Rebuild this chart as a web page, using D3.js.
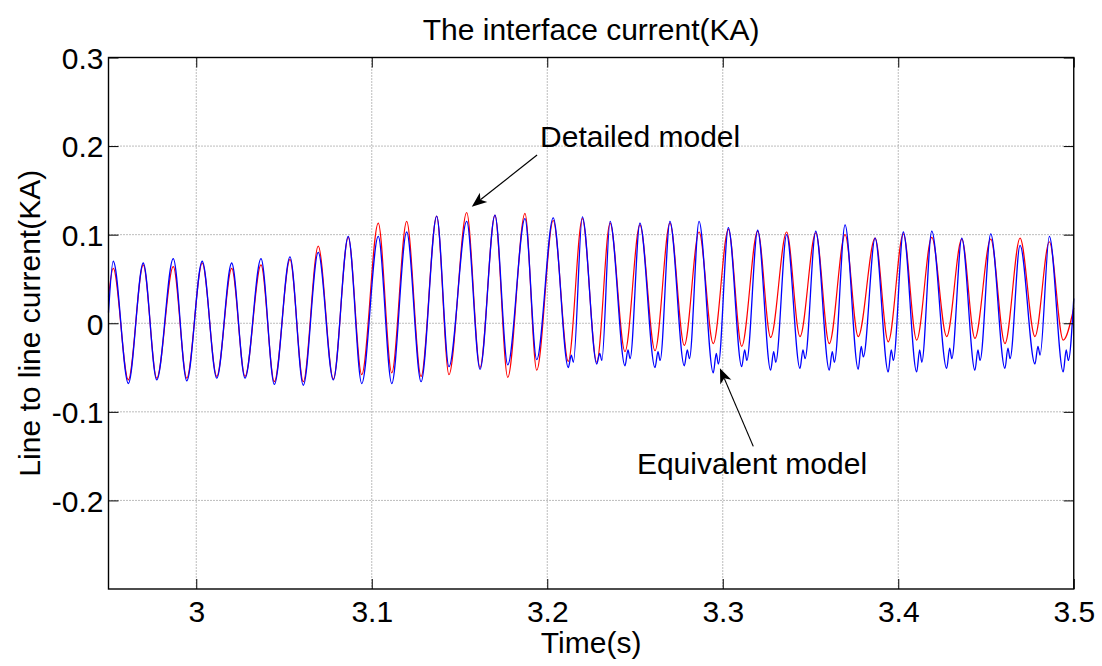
<!DOCTYPE html>
<html>
<head>
<meta charset="utf-8">
<script src="https://cdn.jsdelivr.net/npm/d3@7"></script>
<style>
    body { margin: 0; background: #fff; }
    svg { font-family: "Liberation Sans", Arial, Helvetica, sans-serif; }
</style>
</head>
<body>
<div id="wrapper"></div>
<script>
//data
const peakTime = [2.9527, 2.9698, 2.9869, 3.0034, 3.0202, 3.0369, 3.0534, 3.0695, 3.0866, 3.1037, 3.1199,
    3.1370, 3.1541, 3.1702, 3.1873, 3.2034, 3.2200, 3.2358, 3.2528, 3.2699, 3.2865, 3.3032,
    3.3199, 3.3364, 3.3530, 3.3697, 3.3868, 3.4029, 3.4191, 3.4362, 3.4527, 3.4694, 3.4861];
const troughTime = [2.9613, 2.9775, 2.9946, 3.0117, 3.0278, 3.0445, 3.0610, 3.0781, 3.0943, 3.1114, 3.1281,
    3.1440, 3.1617, 3.1775, 3.1940, 3.2120, 3.2282, 3.2443, 3.2614, 3.2781, 3.2946, 3.3108,
    3.3273, 3.3440, 3.3607, 3.3772, 3.3943, 3.4105, 3.4276, 3.4437, 3.4608, 3.4779, 3.4940];

const detailedPeak = [0.062, 0.066, 0.064, 0.068, 0.062, 0.066, 0.072, 0.087, 0.097, 0.113, 0.115,
    0.121, 0.125, 0.122, 0.124, 0.116, 0.118, 0.113, 0.111, 0.113, 0.103, 0.106,
    0.104, 0.103, 0.102, 0.100, 0.096, 0.101, 0.097, 0.095, 0.095, 0.096, 0.092];
const detailedTrough = [-0.064, -0.062, -0.062, -0.060, -0.060, -0.066, -0.066, -0.063, -0.058, -0.056, -0.060,
    -0.058, -0.050, -0.061, -0.053, -0.043, -0.044, -0.032, -0.031, -0.025, -0.023, -0.026,
    -0.016, -0.015, -0.023, -0.015, -0.021, -0.019, -0.015, -0.017, -0.023, -0.015, -0.019];

const equivalentPeak = [0.070, 0.068, 0.073, 0.070, 0.068, 0.073, 0.075, 0.080, 0.098, 0.098, 0.103,
    0.121, 0.115, 0.122, 0.118, 0.119, 0.120, 0.115, 0.113, 0.115, 0.115, 0.108,
    0.105, 0.100, 0.104, 0.111, 0.096, 0.103, 0.104, 0.096, 0.101, 0.088, 0.098];
const equivalentTrough = [-0.068, -0.064, -0.065, -0.062, -0.062, -0.069, -0.070, -0.064, -0.068, -0.068, -0.066,
    -0.049, -0.052, -0.047, -0.041, -0.050, -0.046, -0.048, -0.050, -0.048, -0.056, -0.049,
    -0.053, -0.051, -0.053, -0.052, -0.055, -0.055, -0.051, -0.053, -0.051, -0.046, -0.055];
// small bump + second dip right after the deep troughs of the equivalent model
const equivalentNotch = [
    [3.2137, -0.036], [3.2149, -0.044], [3.2299, -0.034], [3.2311, -0.042],
    [3.2460, -0.030], [3.2472, -0.040], [3.2631, -0.032], [3.2643, -0.042],
    [3.2798, -0.030], [3.2810, -0.040], [3.2963, -0.034], [3.2975, -0.046],
    [3.3125, -0.030], [3.3137, -0.042], [3.3290, -0.032], [3.3302, -0.044],
    [3.3457, -0.030], [3.3469, -0.040], [3.3624, -0.032], [3.3636, -0.044],
    [3.3789, -0.026], [3.3801, -0.038], [3.3960, -0.030], [3.3972, -0.042],
    [3.4122, -0.030], [3.4134, -0.044], [3.4293, -0.028], [3.4305, -0.040],
    [3.4454, -0.030], [3.4466, -0.042], [3.4625, -0.028], [3.4637, -0.040],
    [3.4796, -0.026], [3.4808, -0.036], [3.4957, -0.030], [3.4969, -0.042]
];
const detailedEnds = [[2.95, 0.030], [3.5, 0.017]];
const equivalentEnds = [[2.95, 0.012], [3.5, 0.028]];

const xTicks = [3, 3.1, 3.2, 3.3, 3.4, 3.5];
const yTicks = [-0.2, -0.1, 0, 0.1, 0.2, 0.3];

// annotations: text position, arrow tail, arrow tip (data units)
const notes = [
    { label: 'Detailed model', text: [3.1959, 0.199], tail: [3.1942, 0.190], tip: [3.1570, 0.1316] },
    { label: 'Equivalent model', text: [3.2511, -0.170], tail: [3.3174, -0.139], tip: [3.2984, -0.0508] },
];

function buildSeries(peaks, troughs, ends, extra) {
    let pts = [ends[0]];
    peakTime.forEach((t, i) => {
        pts.push([t, peaks[i]]);
        pts.push([troughTime[i], troughs[i]]);
    });
    pts = pts.concat(extra || []);
    pts.push(ends[1]);
    return pts.sort((a, b) => a[0] - b[0]);
}

const detailed = buildSeries(detailedPeak, detailedTrough, detailedEnds);
const equivalent = buildSeries(equivalentPeak, equivalentTrough, equivalentEnds, equivalentNotch);

//set up dimensions
let dimensions = {
    width: 1102,
    height: 666,
    margin: { top: 57.5, right: 28.25, bottom: 77, left: 108.5 },
};
dimensions.boundedWidth = dimensions.width - dimensions.margin.left - dimensions.margin.right;
dimensions.boundedHeight = dimensions.height - dimensions.margin.top - dimensions.margin.bottom;

const svg = d3.select('#wrapper')
    .append('svg')
    .attr('width', dimensions.width)
    .attr('height', dimensions.height);

const bounds = svg.append('g')
    .attr('transform', `translate(${dimensions.margin.left}, ${dimensions.margin.top})`);

const x = d3.scaleLinear().domain([2.95, 3.5]).range([0, dimensions.boundedWidth]);
const y = d3.scaleLinear().domain([-0.3, 0.3]).range([dimensions.boundedHeight, 0]);

const fontSize = 30;
const plainNumber = d => String(d); // keeps the ascii hyphen like matlab

// grid (dotted, matlab style)
const grid = bounds.append('g').attr('class', 'grid');
grid.selectAll('.vgrid')
    .data(xTicks.filter(d => d < 3.5))
    .join('line')
    .attr('x1', d => x(d)).attr('x2', d => x(d))
    .attr('y1', 0).attr('y2', dimensions.boundedHeight);
grid.selectAll('.hgrid')
    .data(yTicks.filter(d => d < 0.3))
    .join('line')
    .attr('class', 'hgrid')
    .attr('y1', d => y(d)).attr('y2', d => y(d))
    .attr('x1', 0).attr('x2', dimensions.boundedWidth);
grid.selectAll('line')
    .attr('stroke', '#7a7a7a')
    .attr('stroke-width', 1)
    .attr('stroke-dasharray', '1,2');

// lines
const line = d3.line()
    .x(d => x(d[0]))
    .y(d => y(d[1]))
    .curve(d3.curveMonotoneX);

bounds.append('path')
    .datum(detailed)
    .attr('d', line)
    .attr('fill', 'none')
    .attr('stroke', '#ff0000')
    .attr('stroke-width', 1.2);

bounds.append('path')
    .datum(equivalent)
    .attr('d', line)
    .attr('fill', 'none')
    .attr('stroke', '#0000ff')
    .attr('stroke-width', 1.3);

// axes, ticks inside on all four sides
const tickLen = 10;
const xAxis = bounds.append('g')
    .attr('transform', `translate(0, ${dimensions.boundedHeight})`)
    .call(d3.axisBottom(x).tickValues(xTicks).tickSize(-tickLen).tickFormat(plainNumber));
const xTop = bounds.append('g')
    .call(d3.axisTop(x).tickValues(xTicks).tickSize(-tickLen).tickFormat(''));
const yAxis = bounds.append('g')
    .call(d3.axisLeft(y).tickValues(yTicks).tickSize(-tickLen).tickFormat(plainNumber));
const yRight = bounds.append('g')
    .attr('transform', `translate(${dimensions.boundedWidth}, 0)`)
    .call(d3.axisRight(y).tickValues(yTicks).tickSize(-tickLen).tickFormat(''));

[xAxis, xTop, yAxis, yRight].forEach(a => {
    a.select('.domain').remove();
    a.selectAll('.tick line').attr('stroke', '#000').attr('stroke-width', 1);
    a.selectAll('text')
        .attr('font-size', fontSize)
        .attr('fill', '#000')
        .attr('font-family', '"Liberation Sans", Arial, sans-serif');
});
yAxis.selectAll('text').attr('x', -5).attr('dy', '0.36em');
xAxis.selectAll('text').attr('y', 33).attr('dy', 0);

// box
bounds.append('rect')
    .attr('width', dimensions.boundedWidth)
    .attr('height', dimensions.boundedHeight)
    .attr('fill', 'none')
    .attr('stroke', '#000')
    .attr('stroke-width', 1.4);

// labels
svg.append('text')
    .attr('x', dimensions.margin.left + dimensions.boundedWidth / 2)
    .attr('y', 40)
    .attr('text-anchor', 'middle')
    .attr('font-size', fontSize)
    .text('The interface current(KA)');

svg.append('text')
    .attr('x', dimensions.margin.left + dimensions.boundedWidth / 2)
    .attr('y', 653)
    .attr('text-anchor', 'middle')
    .attr('font-size', fontSize)
    .text('Time(s)');

svg.append('text')
    .attr('transform', `translate(40, ${dimensions.margin.top + dimensions.boundedHeight / 2}) rotate(-90)`)
    .attr('text-anchor', 'middle')
    .attr('font-size', fontSize)
    .text('Line to line current(KA)');

// annotations with arrows
const noteGroup = bounds.append('g');
notes.forEach(n => {
    const x0 = x(n.tail[0]), y0 = y(n.tail[1]);
    const x1 = x(n.tip[0]), y1 = y(n.tip[1]);
    const ang = Math.atan2(y1 - y0, x1 - x0);
    const headLen = 15, headW = 6, notch = 11;
    const ux = Math.cos(ang), uy = Math.sin(ang);
    const bx = x1 - ux * headLen, by = y1 - uy * headLen;
    const nx = x1 - ux * notch, ny = y1 - uy * notch;

    noteGroup.append('line')
        .attr('x1', x0).attr('y1', y0)
        .attr('x2', nx).attr('y2', ny)
        .attr('stroke', '#000')
        .attr('stroke-width', 1.2);

    noteGroup.append('path')
        .attr('d', `M${x1},${y1}L${bx - uy * headW},${by + ux * headW}L${nx},${ny}L${bx + uy * headW},${by - ux * headW}Z`)
        .attr('fill', '#000');

    noteGroup.append('text')
        .attr('x', x(n.text[0]))
        .attr('y', y(n.text[1]))
        .attr('font-size', fontSize)
        .text(n.label);
});
</script>
</body>
</html>
